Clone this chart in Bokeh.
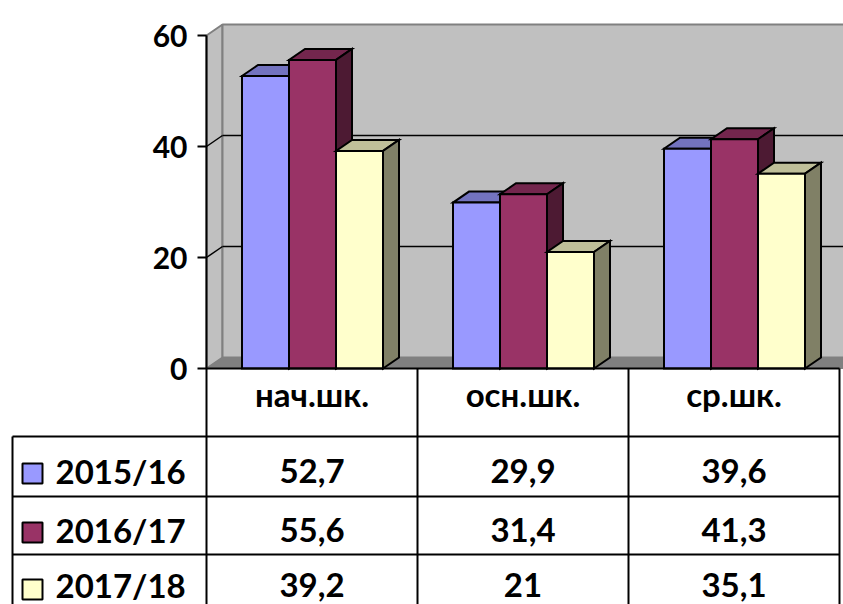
from bokeh.plotting import figure
from bokeh.models import Range1d, FixedTicker
from bokeh.embed import file_html
from bokeh.resources import INLINE
from bokeh.core.properties import value

# ---------------- data ----------------
categories = ["нач.шк.", "осн.шк.", "ср.шк."]
series_names = ["2015/16", "2016/17", "2017/18"]
values_2015_16 = [52.7, 29.9, 39.6]
values_2016_17 = [55.6, 31.4, 41.3]
values_2017_18 = [39.2, 21.0, 35.1]
y_ticks = [0, 20, 40, 60]
y_max = 60

series_values = [values_2015_16, values_2016_17, values_2017_18]
front_colors = ["#9999FF", "#993366", "#FFFFCC"]
top_colors = ["#7373BF", "#73264D", "#BFBF99"]
side_colors = ["#4C4C80", "#4D1A33", "#808066"]

# ---------------- geometry (pixels) ----------------
W, H = 843, 604
AXIS_X = 206        # pixel column of the value axis
CAT_PX = 211        # width of one category column
PX_PER_UNIT = 5.55  # vertical pixels per value unit
ZERO_Y = 368        # pixel row of value 0
DEPTH_X, DEPTH_Y = 16, 11
TEXT_SHIFT = 13     # compensation for text baseline placement


def ux(px):  # pixel column -> category units
    return (px - AXIS_X) / CAT_PX


def uy(py):  # pixel row -> value units
    return (ZERO_Y - py) / PX_PER_UNIT


x_start, x_end = ux(0), ux(W)
y_start, y_top = uy(H), uy(0)
DX = DEPTH_X / CAT_PX
DY = DEPTH_Y / PX_PER_UNIT
OFF = 35.5 / CAT_PX
BW = 47 / CAT_PX
n_cat = len(categories)
FONT = value("Lato")
TXT = dict(text_font=FONT, text_font_style="bold", text_font_size="33px",
           text_baseline="alphabetic", text_color="black")

p = figure(width=W, height=H, x_range=Range1d(x_start, x_end), y_range=Range1d(y_start, y_top),
           output_backend="svg", toolbar_location=None, x_axis_location=None,
           min_border_left=0, min_border_right=0, min_border_top=0, min_border_bottom=0)
p.grid.visible = False
p.outline_line_color = None

ax = p.yaxis[0]
ax.fixed_location = 0
ax.ticker = FixedTicker(ticks=y_ticks)
ax.bounds = (y_start, y_max)
ax.axis_line_width = 2
ax.axis_line_color = "black"
ax.major_tick_line_width = 2
ax.major_tick_line_color = "black"
ax.major_tick_out = 9
ax.major_tick_in = 0
ax.minor_tick_out = 0
ax.minor_tick_in = 0
ax.major_label_standoff = 10
ax.major_label_text_font = "Lato"
ax.major_label_text_font_style = "bold"
ax.major_label_text_font_size = "30px"
ax.major_label_text_color = "black"
ax.major_label_text_baseline = "middle"
ax.level = "overlay"

far = x_end + 1
# walls
p.patch([0, 0, DX, DX], [0, y_max, y_max + DY, DY], fill_color="#C0C0C0",
        line_color="#808080", line_width=2)
p.quad(left=[DX], right=[far], bottom=[DY], top=[y_max + DY], fill_color="#C0C0C0",
       line_color="#808080", line_width=2)
p.patch([0, DX, far, far], [0, DY, DY, 0], fill_color="#808080", line_color="#808080", line_width=1)
grid_ticks = [t for t in y_ticks if 0 < t < y_max]
p.segment(x0=[DX] * len(grid_ticks), y0=[t + DY for t in grid_ticks],
          x1=[far] * len(grid_ticks), y1=[t + DY for t in grid_ticks], line_color="black", line_width=1.5)
p.segment(x0=[0] * len(grid_ticks), y0=grid_ticks,
          x1=[DX] * len(grid_ticks), y1=[t + DY for t in grid_ticks], line_color="black", line_width=1.5)

# bars
for j, vals in enumerate(series_values):
    x0s = [i + OFF + j * BW for i in range(n_cat)]
    x1s = [x + BW for x in x0s]
    p.patches([[a, b, b + DX, a + DX] for a, b in zip(x0s, x1s)],
              [[v, v, v + DY, v + DY] for v in vals],
              fill_color=top_colors[j], line_color="black", line_width=2, line_join="miter")
    p.patches([[b, b + DX, b + DX, b] for b in x1s],
              [[0, DY, v + DY, v] for v in vals],
              fill_color=side_colors[j], line_color="black", line_width=2, line_join="miter")
    p.quad(left=x0s, right=x1s, bottom=[0] * n_cat, top=vals,
           fill_color=front_colors[j], line_color="black", line_width=2, line_join="miter")

# ---------------- data table ----------------
x_tab_left = ux(12)
header_bottom = uy(436)
row_tops = [uy(436), uy(496), uy(554)]
key_base = [uy(483), uy(542), uy(599)]
row_base = [uy(483 - TEXT_SHIFT), uy(542 - TEXT_SHIFT), uy(597 - TEXT_SHIFT)]

# table rules
p.segment(x0=[0], y0=[0], x1=[n_cat], y1=[0], line_color="black", line_width=2)
p.segment(x0=[x_tab_left] * 3, y0=row_tops, x1=[n_cat] * 3, y1=row_tops, line_color="black", line_width=2)
vx = list(range(1, n_cat + 1))
p.segment(x0=vx, y0=[0] * len(vx), x1=vx, y1=[y_start - 1] * len(vx), line_color="black", line_width=2)
p.segment(x0=[x_tab_left], y0=[header_bottom], x1=[x_tab_left], y1=[y_start - 1],
          line_color="black", line_width=2)

# header (categories)
p.text(x=[i + 0.5 for i in range(n_cat)], y=[uy(407 - TEXT_SHIFT - 1)] * n_cat, text=categories,
       text_align="center", **TXT)

# legend keys + series names
sq_h = 20 / PX_PER_UNIT
p.quad(left=[ux(22)] * 3, right=[ux(42)] * 3, bottom=key_base, top=[b + sq_h for b in key_base],
       fill_color=front_colors, line_color="black", line_width=2)
p.text(x=[ux(55)] * 3, y=row_base, text=series_names, text_align="left", **TXT)

# values
for j, vals in enumerate(series_values):
    labels = [f"{v:g}".replace(".", ",") for v in vals]
    p.text(x=[i + 0.5 for i in range(n_cat)], y=[row_base[j]] * n_cat, text=labels,
           text_align="center", **TXT)

open("out.html", "w").write(file_html(p, INLINE))
